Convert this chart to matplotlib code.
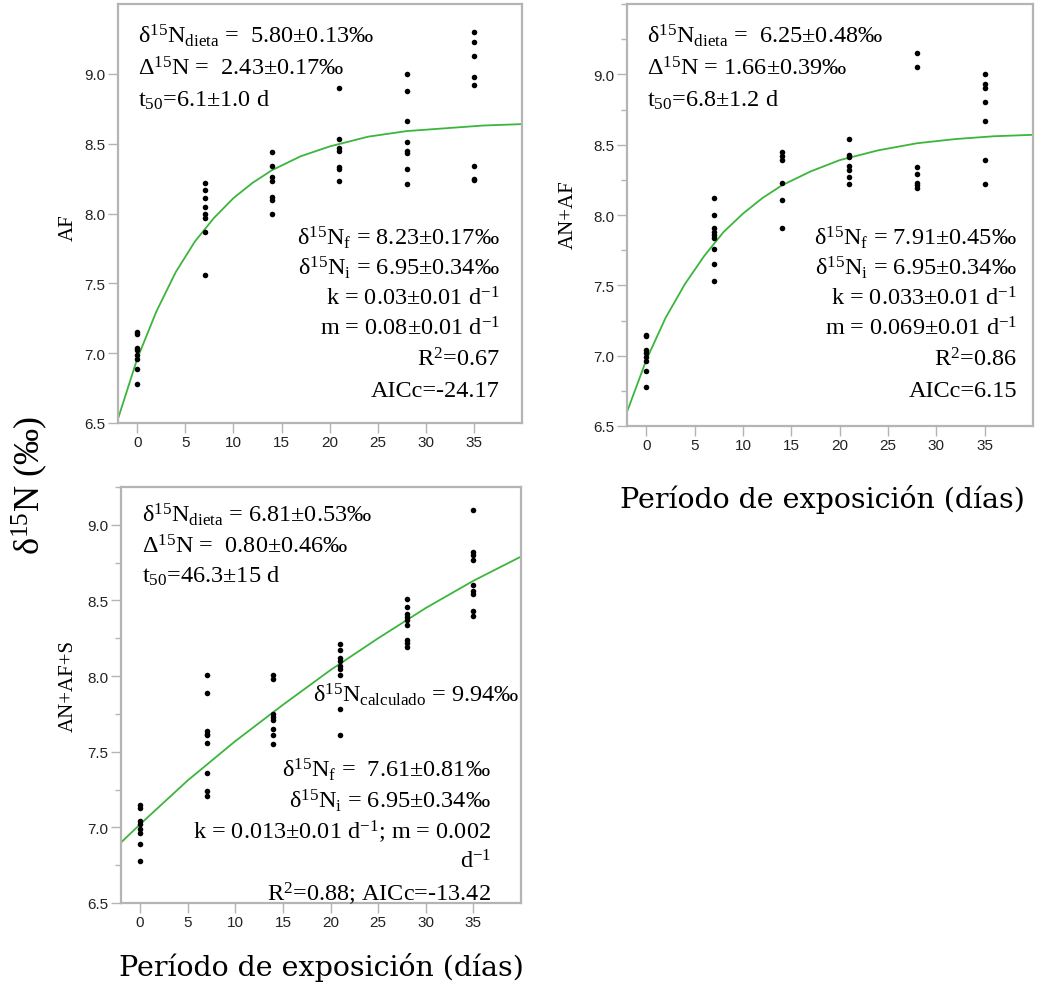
import numpy as np
import matplotlib
matplotlib.use("Agg")
from matplotlib import pyplot as plt
from matplotlib.ticker import MultipleLocator

plt.rcParams["mathtext.default"] = "regular"

W, H = 1049, 995
SERIF = "Liberation Serif"
WIDE = "DejaVu Serif"
SANS = "Liberation Sans"
GREEN = "#3cb53c"
SPINE = "#b4b4b4"

# ---- data ----
days = [0, 7, 14, 21, 28, 35]

af_vals = [
    [7.15, 7.14, 7.04, 7.02, 6.99, 6.96, 6.89, 6.78],
    [8.22, 8.17, 8.11, 8.05, 8.00, 7.97, 7.87, 7.56],
    [8.44, 8.34, 8.26, 8.23, 8.12, 8.10, 8.00],
    [8.90, 8.53, 8.47, 8.45, 8.33, 8.32, 8.23],
    [9.00, 8.88, 8.66, 8.51, 8.45, 8.43, 8.32, 8.21],
    [9.30, 9.23, 9.13, 8.98, 8.92, 8.34, 8.25, 8.24],
]
af_fit_t = [-2, 0, 2, 4, 6, 8, 10, 12, 14, 17, 20, 24, 28, 32, 36, 40]
af_fit_y = [6.53, 6.96, 7.30, 7.58, 7.80, 7.97, 8.11, 8.22, 8.31, 8.41,
            8.48, 8.55, 8.59, 8.61, 8.63, 8.64]

anaf_vals = [
    [7.15, 7.14, 7.04, 7.02, 6.99, 6.96, 6.89, 6.78],
    [8.12, 8.00, 7.91, 7.88, 7.86, 7.84, 7.76, 7.65, 7.53],
    [8.45, 8.42, 8.39, 8.23, 8.11, 7.91],
    [8.54, 8.43, 8.41, 8.35, 8.32, 8.27, 8.22],
    [9.15, 9.05, 8.34, 8.29, 8.23, 8.21, 8.19],
    [9.00, 8.93, 8.90, 8.80, 8.67, 8.39, 8.22],
]
anaf_fit_t = [-2, 0, 2, 4, 6, 8, 10, 12, 14, 17, 20, 24, 28, 32, 36, 40]
anaf_fit_y = [6.60, 6.97, 7.27, 7.51, 7.71, 7.88, 8.01, 8.12, 8.21, 8.31,
              8.39, 8.46, 8.51, 8.54, 8.56, 8.57]

anafs_vals = [
    [7.15, 7.13, 7.04, 7.02, 6.99, 6.96, 6.89, 6.78],
    [8.01, 7.89, 7.64, 7.62, 7.61, 7.56, 7.36, 7.24, 7.21],
    [8.01, 7.98, 7.75, 7.73, 7.71, 7.65, 7.61, 7.55],
    [8.21, 8.17, 8.12, 8.10, 8.07, 8.05, 8.01, 7.78, 7.61],
    [8.51, 8.46, 8.41, 8.39, 8.37, 8.34, 8.24, 8.22, 8.19],
    [9.10, 8.82, 8.80, 8.77, 8.60, 8.56, 8.54, 8.43, 8.40],
]
anafs_fit_t = [-2, 0, 5, 10, 15, 20, 25, 30, 35, 40]
anafs_fit_y = [6.90, 7.02, 7.31, 7.57, 7.81, 8.04, 8.25, 8.45, 8.63, 8.79]

yticks = [6.5, 7.0, 7.5, 8.0, 8.5, 9.0]
xticks = [0, 5, 10, 15, 20, 25, 30, 35]


def px_axes(fig, left, top, right, bottom):
    return fig.add_axes([left / W, 1 - bottom / H, (right - left) / W,
                         (bottom - top) / H])


def style(ax, ytop, minor):
    ax.set_xlim(-2, 40)
    ax.set_ylim(6.5, ytop)
    ax.set_xticks(xticks)
    ax.set_yticks(yticks)
    ax.set_yticklabels([f"{v:.1f}" for v in yticks])
    if minor:
        ax.yaxis.set_minor_locator(MultipleLocator(0.25))
        ax.tick_params(axis="y", which="minor", length=4, width=1,
                       color=SPINE)
    for s in ax.spines.values():
        s.set_color(SPINE)
        s.set_linewidth(1.6)
    ax.tick_params(which="major", length=7, width=1, color=SPINE,
                   labelsize=11, labelcolor="#222222", pad=2)
    for lab in ax.get_xticklabels() + ax.get_yticklabels():
        lab.set_fontfamily(SANS)


def panel(ax, vals, fit_t, fit_y):
    for d, v in zip(days, vals):
        ax.scatter([d] * len(v), v, s=16, color="black", zorder=3,
                   linewidths=0)
    ax.plot(fit_t, fit_y, color=GREEN, lw=1.3, zorder=2)


def put(fig, x, y, s, ha="left", size=17.5):
    fig.text(x / W, 1 - y / H, s, ha=ha, va="baseline", family=SERIF,
             size=size, color="black")


fig = plt.figure(figsize=(W / 100, H / 100), dpi=100)

ax1 = px_axes(fig, 118, 5, 522, 424)
panel(ax1, af_vals, af_fit_t, af_fit_y)
style(ax1, 9.5, False)

ax2 = px_axes(fig, 627, 5, 1033, 427)
panel(ax2, anaf_vals, anaf_fit_t, anaf_fit_y)
style(ax2, 9.5, True)

ax3 = px_axes(fig, 121, 488, 521, 904)
panel(ax3, anafs_vals, anafs_fit_t, anafs_fit_y)
style(ax3, 9.25, True)

# panel 1 annotations
put(fig, 138, 43, "δ$^{15}$N$_{dieta}$ =  5.80±0.13‰")
put(fig, 138, 75, "Δ$^{15}$N =  2.43±0.17‰")
put(fig, 138, 107, "t$_{50}$=6.1±1.0 d")
r1 = ["δ$^{15}$N$_{f}$ = 8.23±0.17‰", "δ$^{15}$N$_{i}$ = 6.95±0.34‰",
      "k = 0.03±0.01 d$^{-1}$", "m = 0.08±0.01 d$^{-1}$",
      "R$^{2}$=0.67", "AICc=-24.17"]
for yb, s in zip([245, 275, 305, 335, 367, 397], r1):
    put(fig, 500, yb, s, ha="right")

# panel 2 annotations
put(fig, 647, 43, "δ$^{15}$N$_{dieta}$ =  6.25±0.48‰")
put(fig, 647, 75, "Δ$^{15}$N = 1.66±0.39‰")
put(fig, 647, 107, "t$_{50}$=6.8±1.2 d")
r2 = ["δ$^{15}$N$_{f}$ = 7.91±0.45‰", "δ$^{15}$N$_{i}$ = 6.95±0.34‰",
      "k = 0.033±0.01 d$^{-1}$", "m = 0.069±0.01 d$^{-1}$",
      "R$^{2}$=0.86", "AICc=6.15"]
for yb, s in zip([245, 275, 305, 335, 367, 397], r2):
    put(fig, 1017, yb, s, ha="right")

# panel 3 annotations
put(fig, 142, 522, "δ$^{15}$N$_{dieta}$ = 6.81±0.53‰")
put(fig, 142, 553, "Δ$^{15}$N =  0.80±0.46‰")
put(fig, 142, 583, "t$_{50}$=46.3±15 d")
put(fig, 519, 702, "δ$^{15}$N$_{calculado}$ = 9.94‰", ha="right")
r3 = ["δ$^{15}$N$_{f}$ =  7.61±0.81‰", "δ$^{15}$N$_{i}$ = 6.95±0.34‰",
      "k = 0.013±0.01 d$^{-1}$; m = 0.002", "d$^{-1}$",
      "R$^{2}$=0.88; AICc=-13.42"]
for yb, s in zip([777, 808, 839, 869, 901], r3):
    put(fig, 491, yb, s, ha="right")

# axis labels
box = dict(facecolor="white", edgecolor="none", pad=3)
fig.text(68 / W, 1 - 228 / H, "AF", rotation=90, ha="center", va="center",
         family=SERIF, size=15, bbox=box)
fig.text(568 / W, 1 - 215 / H, "AN+AF", rotation=90, ha="center",
         va="center", family=SERIF, size=15, bbox=box)
fig.text(68 / W, 1 - 686 / H, "AN+AF+S", rotation=90, ha="center",
         va="center", family=SERIF, size=15, bbox=box)

fig.text(30 / W, 1 - 485 / H, "δ$^{15}$N (‰)", rotation=90, ha="center",
         va="center", family=SERIF, size=26)
fig.text(822 / W, 1 - 500 / H, "Período de exposición (días)", ha="center",
         va="center", family=WIDE, size=20.5)
fig.text(321 / W, 1 - 968 / H, "Período de exposición (días)", ha="center",
         va="center", family=WIDE, size=20.5)

fig.savefig("out.png", dpi=100)
